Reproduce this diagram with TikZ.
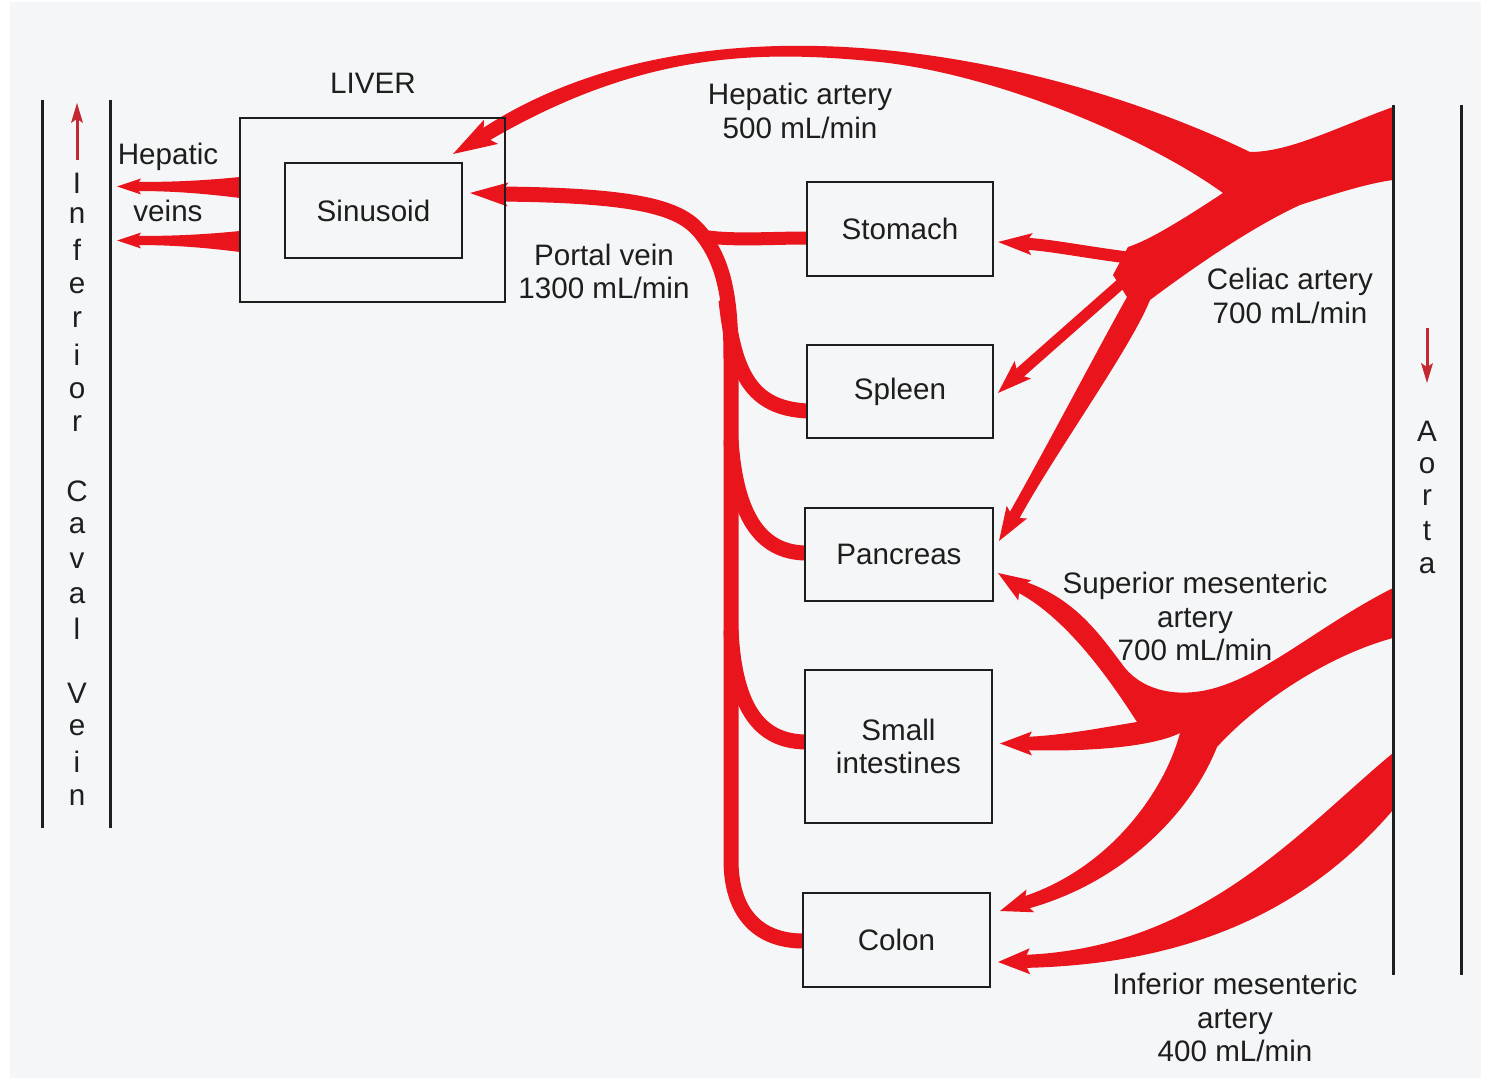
\documentclass[tikz,border=0pt]{standalone}
\usepackage{fontspec}
\setmainfont{Liberation Sans}
\usetikzlibrary{calc}
\definecolor{vred}{RGB}{234,20,28}
\definecolor{ared}{RGB}{196,40,48}
\definecolor{ink}{RGB}{30,30,30}
\definecolor{paper}{RGB}{245,246,247}
\pgfdeclarelayer{bgl}
\pgfdeclarelayer{vess}
\pgfsetlayers{bgl,vess,main}
\newcommand\vesselhead[5][vred]{%
  \path ($(#2)!#4!(#3)$) coordinate (ahB);
  \fill[#1] (#2) -- ($(ahB)!#5!90:(#2)$) -- ($(#2)!0.8!(ahB)$) -- ($(ahB)!#5!-90:(#2)$) -- cycle;}
\tikzset{
  every node/.style={font=\fontsize{14.8pt}{16.8pt}\selectfont},
  box/.style={draw=ink, line width=1.3pt, inner sep=0pt, text=ink, align=center},
  lbl/.style={text=ink, align=center, inner sep=0pt},
  vline/.style={draw=vred, line cap=butt},
  wall/.style={draw=ink, line width=1.5pt},
  smallarrow/.style={draw=ared, line width=1.5pt}
}
\begin{document}
\begin{tikzpicture}[x=0.5pt,y=-0.5pt]
\useasboundingbox (0,0) rectangle (1485,1081);
\begin{pgfonlayer}{bgl}
  \fill[white] (0,0) rectangle (1485,1081);
  \fill[paper] (10,2) rectangle (1481,1078);
\end{pgfonlayer}

% ---------- boxes ----------
\node[box, minimum width=132.5pt, minimum height=92pt] (liver) at (372.5,210) {};
\node[box, minimum width=88.5pt, minimum height=47.5pt] (sinus) at (373.5,210.5) {Sinusoid};
\node[box, minimum width=93pt, minimum height=47pt] (stomach) at (900,229) {Stomach};
\node[box, minimum width=93pt, minimum height=46.5pt] (spleen) at (900,391.5) {Spleen};
\node[box, minimum width=94pt, minimum height=46.5pt] (pancreas) at (899,554.5) {Pancreas};
\node[box, minimum width=93.5pt, minimum height=76.5pt] (smallint) at (898.5,746.5) {Small\\intestines};
\node[box, minimum width=93.5pt, minimum height=47pt] (colon) at (896.5,940) {Colon};

% ---------- labels ----------
\node[lbl] (liverlbl) at (373,83) {LIVER};
\node[lbl] (hvlblA) at (168,157) {Hepatic};
\node[lbl] (hvlblB) at (168,211) {veins};
\node[lbl] (halbl) at (800,111) {Hepatic artery\\500 mL/min};
\node[lbl] (pvlbl) at (604,271.5) {Portal vein\\1300 mL/min};
\node[lbl] (calbl) at (1290,296) {Celiac artery\\700 mL/min};
\node[lbl] (smalbl) at (1195,616.5) {Superior mesenteric\\artery\\700 mL/min};
\node[lbl] (imalbl) at (1235,1017.5) {Inferior mesenteric\\artery\\400 mL/min};

% ---------- vessel walls ----------
\coordinate (ivcAt) at (42,100);  \coordinate (ivcAb) at (42,828);
\coordinate (ivcBt) at (110,100); \coordinate (ivcBb) at (110,828);
\coordinate (aoAt) at (1393,105); \coordinate (aoAb) at (1393,975);
\coordinate (aoBt) at (1461,105); \coordinate (aoBb) at (1461,975);
\draw[wall] (ivcAt) -- (ivcAb);
\draw[wall] (ivcBt) -- (ivcBb);
\draw[wall] (aoAt) -- (aoAb);
\draw[wall] (aoBt) -- (aoBb);

\foreach \ch/\yy in {I/193,n/224,f/261,e/293,r/328,i/365,o/398,r/431,C/501,a/533,v/568,a/603,l/639,V/703,e/735,i/772,n/805}
  \node[lbl, anchor=base] (ivc-\yy) at (77,\yy) {\ch};
\foreach \ch/\yy in {A/441,o/473,r/505,t/540,a/573}
  \node[lbl, anchor=base] (ao-\yy) at (1427,\yy) {\ch};

% ---------- named end points ----------
\coordinate (ivcTail) at (77,160); \coordinate (ivcLine) at (77,118); \coordinate (ivcTip) at (77,103);
\coordinate (aoTail) at (1427,328); \coordinate (aoLine) at (1427,368); \coordinate (aoTip) at (1427,383);
\coordinate (hvAtip) at (117,186.5); \coordinate (hvAend) at (135,186.5);
\coordinate (hvBtip) at (117,240.5); \coordinate (hvBend) at (135,240.5);
\coordinate (haTip) at (453,154); \coordinate (haEnd) at (477,140);
\coordinate (pvTip) at (470,193); \coordinate (pvEnd) at (496,194);
\coordinate (pvJ) at (700,232);
\coordinate (pvSt) at (807,238); \coordinate (pvSp) at (807,411);
\coordinate (pvPa) at (805,553); \coordinate (pvSi) at (805,742); \coordinate (pvCo) at (803,941);
\coordinate (caSt) at (1165,262); \coordinate (stEnd) at (1022,243.5); \coordinate (stTip) at (998,242);
\coordinate (caSp) at (1150,258); \coordinate (spEnd) at (1014,378); \coordinate (spTip) at (998,393);
\coordinate (paEnd) at (1012,520); \coordinate (paTip) at (999,541);
\coordinate (smPaEnd) at (1016.5,585); \coordinate (smPaTip) at (998,573);
\coordinate (smSiEnd) at (1022,743.5); \coordinate (smSiTip) at (1000,743.5);
\coordinate (smCoEnd) at (1021,904); \coordinate (smCoTip) at (1000,911);
\coordinate (imEnd) at (1020,961.5); \coordinate (imTip) at (998,962);

\begin{pgfonlayer}{vess}
  % hepatic veins
  \fill[vred] (240,177) .. controls (200,181) and (170,182) .. (135,182) -- (135,191)
     .. controls (170,191) and (200,193) .. (240,198) -- cycle;
  \vesselhead{hvAtip}{hvAend}{12pt}{4pt}
  \fill[vred] (240,231) .. controls (200,235) and (170,236) .. (135,236) -- (135,245)
     .. controls (170,245) and (200,247) .. (240,252) -- cycle;
  \vesselhead{hvBtip}{hvBend}{12pt}{4pt}

  % celiac trunk + hepatic artery + pancreatic branch
  \fill[vred] (aoAt) ++(0,2) .. controls (1335,128) and (1290,152) .. (1250,152)
     .. controls (1050,55) and (700,-20) .. (474,134) -- (480,146)
     .. controls (640,50) and (760,50) .. (880,62)
     .. controls (1000,75) and (1150,140) .. (1223,193)
     .. controls (1185,218) and (1150,240) .. (1128,247)
     -- (1113,275) -- (1127,297)
     .. controls (1100,345) and (1045,450) .. (1007,517)
     -- (1017,523)
     .. controls (1050,460) and (1130,350) .. (1150,300)
     .. controls (1190,270) and (1250,228) .. (1300,205)
     .. controls (1340,192) and (1370,183) .. (1393,180) -- cycle;
  \vesselhead{haTip}{haEnd}{22pt}{7pt}
  \draw[vline, line width=6pt] (caSt) .. controls (1090,254) and (1055,245) .. (stEnd);
  \vesselhead{stTip}{stEnd}{17pt}{5.5pt}
  \draw[vline, line width=5.5pt] (caSp) -- (spEnd);
  \vesselhead{spTip}{spEnd}{17pt}{6pt}
  \vesselhead{paTip}{paEnd}{17pt}{6pt}

  % superior mesenteric artery
  \fill[vred] (1393,588)
     .. controls (1320,625) and (1270,672) .. (1215,688)
     .. controls (1180,698) and (1145,692) .. (1125,668)
     .. controls (1100,635) and (1075,597) .. (1020,580)
     -- (1013,590)
     .. controls (1065,615) and (1110,680) .. (1137,722)
     .. controls (1100,728) and (1060,736) .. (1022,737)
     -- (1022,750)
     .. controls (1080,752) and (1150,748) .. (1180,733)
     .. controls (1165,790) and (1110,870) .. (1019,898)
     -- (1023,910)
     .. controls (1120,885) and (1190,815) .. (1217,747)
     .. controls (1260,700) and (1330,655) .. (1393,638) -- cycle;
  \vesselhead{smPaTip}{smPaEnd}{16pt}{6pt}
  \vesselhead{smSiTip}{smSiEnd}{16pt}{6pt}
  \vesselhead{smCoTip}{smCoEnd}{16pt}{6pt}

  % inferior mesenteric artery
  \fill[vred] (1393,753) .. controls (1300,830) and (1200,950) .. (1020,955)
     -- (1020,968) .. controls (1210,965) and (1320,895) .. (1393,810) -- cycle;
  \vesselhead{imTip}{imEnd}{16pt}{6.5pt}

  % portal system
  \draw[vline, line width=7.5pt] (pvCo) .. controls (760,941) and (731,915) .. (731,860)
     -- (731,360) .. controls (731,300) and (725,262) .. (pvJ)
     .. controls (680,208) and (640,195) .. (pvEnd);
  \vesselhead{pvTip}{pvEnd}{19pt}{6pt}
  \draw[vline, line width=6.5pt] (702,236) .. controls (730,241) and (770,238) .. (pvSt);
  \draw[vline, line width=7.5pt] (726,300) .. controls (734,375) and (752,408) .. (pvSp);
  \draw[vline, line width=7.5pt] (731,440) .. controls (736,515) and (760,552) .. (pvPa);
  \draw[vline, line width=7.5pt] (731,630) .. controls (735,712) and (762,741) .. (pvSi);

  % flow direction arrows
  \draw[smallarrow] (ivcTail) -- (ivcLine);
  \vesselhead[ared]{ivcTip}{ivcTail}{10pt}{3pt}
  \draw[smallarrow] (aoTail) -- (aoLine);
  \vesselhead[ared]{aoTip}{aoTail}{10pt}{3pt}
\end{pgfonlayer}
\end{tikzpicture}
\end{document}
